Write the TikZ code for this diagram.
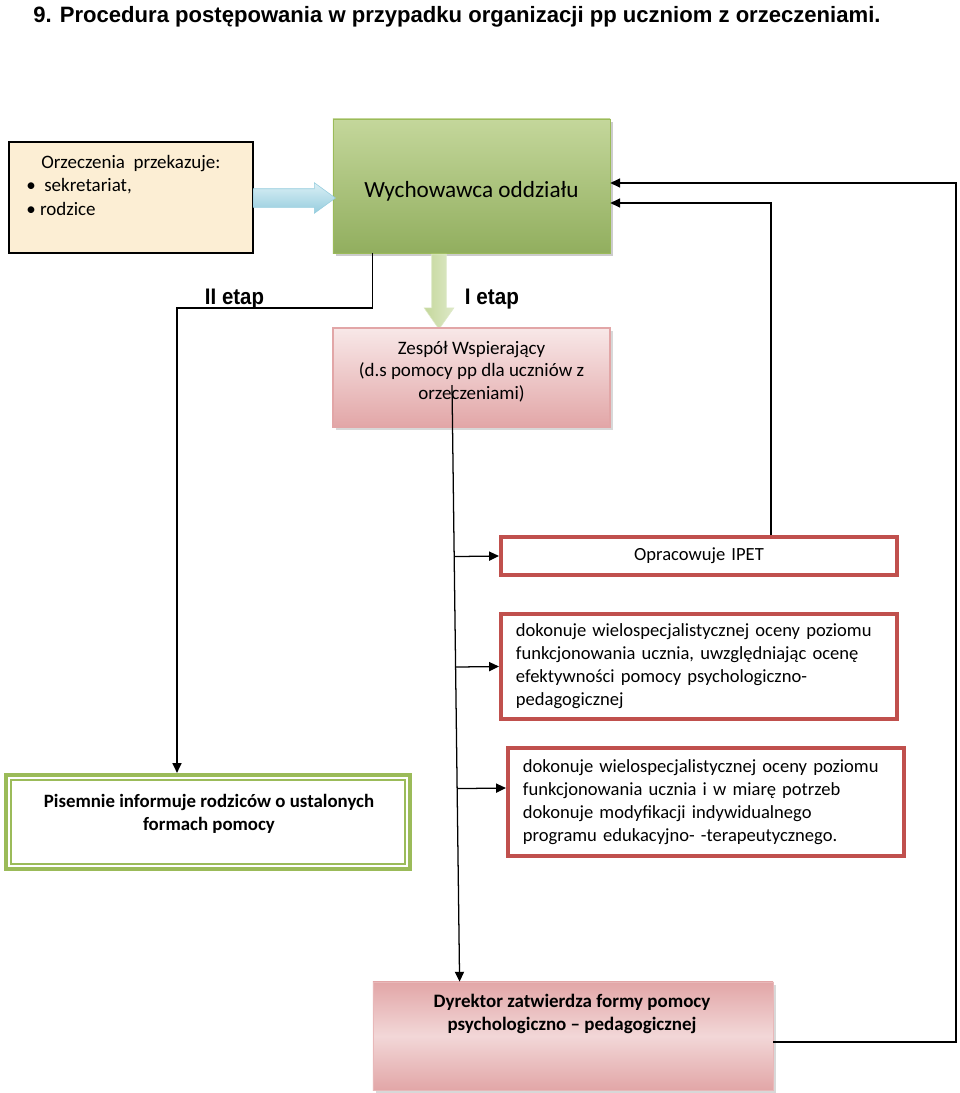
\documentclass[tikz,border=0pt]{standalone}
\usepackage{fontspec}
\setmainfont{Carlito}
\newfontfamily\arialfont{Liberation Sans}
\usepackage{graphicx}
\usepackage{xcolor}
\definecolor{bezowy}{RGB}{252,238,212}
\definecolor{zielony}{RGB}{155,187,89}
\definecolor{zielonyJasny}{RGB}{196,215,155}
\definecolor{zielonyBlady}{RGB}{222,233,200}
\definecolor{zielonyCiemny}{RGB}{126,160,66}
\definecolor{niebieski}{RGB}{150,205,222}
\definecolor{niebieskiJasny}{RGB}{218,239,245}
\definecolor{rozowy}{RGB}{226,166,167}
\definecolor{rozowyJasny}{RGB}{248,232,232}
\definecolor{czerwony}{RGB}{192,80,77}
\usetikzlibrary{arrows,arrows.meta,shapes,shapes.arrows,shadows,calc,positioning}
\tikzstyle{conn}=[-{Triangle[length=7pt,width=6.5pt]}, line width=0.9pt]
\tikzstyle{txt}=[inner sep=0pt, align=center,
                 font=\fontsize{13.5}{16.3}\selectfont]
\tikzstyle{etap}=[inner sep=0pt,
                  font=\arialfont\bfseries\fontsize{16}{19}\selectfont]
\tikzstyle{beigebox}=[rectangle, draw=black, line width=0.8pt, fill=bezowy,
                      minimum width=6.1cm, minimum height=2.775cm]
\tikzstyle{greenbox}=[rectangle, draw=zielony, line width=0.4pt,
                      top color=zielonyJasny, bottom color=zielonyCiemny!85,
                      drop shadow={shadow xshift=2pt, shadow yshift=-2pt, fill=black!40},
                      minimum width=6.925cm, minimum height=3.35cm]
\tikzstyle{pinkbox}=[rectangle, draw=rozowy, line width=0.8pt,
                     top color=rozowyJasny, bottom color=rozowy,
                     drop shadow={shadow xshift=2pt, shadow yshift=-2pt, fill=black!30},
                     minimum width=6.925cm, minimum height=2.475cm]
\tikzstyle{redbox}=[rectangle, draw=czerwony, line width=2.8pt, fill=white,
                    inner xsep=0.375cm, text width=9.15cm, align=left,
                    font=\fontsize{13.2}{16.3}\selectfont]
\tikzstyle{dgreenbox}=[rectangle, draw=zielony, line width=3pt, fill=white,
                       minimum width=10.1cm, minimum height=2.35cm]
\tikzstyle{dirbox}=[rectangle, draw=rozowy!80, line width=0.5pt,
                    top color=rozowy, bottom color=rozowy, middle color=rozowy!45!white,
                    drop shadow={shadow xshift=2pt, shadow yshift=-2pt, fill=black!30},
                    minimum width=10cm, minimum height=2.7cm]
\tikzstyle{bluearrow}=[single arrow, inner xsep=0pt, inner ysep=0.225cm, line width=0.4pt,
                       draw=niebieski, top color=niebieskiJasny, bottom color=niebieski,
                       minimum height=2.05cm,
                       single arrow head extend=0.15cm, single arrow tip angle=72]
\tikzstyle{greenarrow}=[single arrow, shape border rotate=270, inner xsep=0.175cm,
                        inner ysep=0pt, line width=0.4pt, draw=zielonyBlady,
                        left color=zielonyJasny, right color=zielonyBlady,
                        minimum height=1.875cm,
                        single arrow head extend=0.19cm, single arrow tip angle=70]

\begin{document}
\begin{tikzpicture}[x=0.025cm, y=-0.025cm]
    \useasboundingbox (0,0) rectangle (960,1093);

    % tytul
    \draw (33,22) node (tytul) [anchor=base west, inner sep=0pt]
        {\arialfont\bfseries\fontsize{15.8}{18}\selectfont\resizebox{21.175cm}{\height}{9. Procedura postępowania w przypadku organizacji pp uczniom z orzeczeniami.}};

    % gora
    \draw (131,197.5) node (orz) [beigebox] {};
    \draw (26,155) node (orzTxt) [txt, anchor=north west, align=left,
        font=\fontsize{13.5}{16.7}\selectfont]
        {\hspace*{0.375cm}Orzeczenia\ \ przekazuje:\\\textbullet\ \ sekretariat,\\\textbullet\ rodzice};
    \draw (471.5,186) node (wych) [greenbox] {};
    \draw (471.5,191) node (wychTxt) [txt, font=\fontsize{16.5}{19}\selectfont] {Wychowawca oddziału};
    \draw (288,198) node (strz1) [bluearrow] {};
    \draw (439,286.5) node (strz2) [greenarrow] {};

    \draw (234.5,304) node (etap2) [etap, anchor=base] {\resizebox{1.475cm}{\height}{II etap}};
    \draw (492,304) node (etap1) [etap, anchor=base] {\resizebox{1.35cm}{\height}{I etap}};

    \draw (471.5,377.5) node (zesp) [pinkbox] {};
    \draw (471.5,371.5) node (zespTxt) [txt, font=\fontsize{13.5}{16}\selectfont]
        {Zespół Wspierający\\(d.s pomocy pp dla uczniów z\\orzeczeniami)};

    % zadania
    \draw (699,556) node (ipet) [redbox, minimum height=0.95cm, align=center] {Opracowuje IPET};
    \draw (699,666.5) node (ocena1) [redbox, minimum height=2.625cm]
        {dokonuje wielospecjalistycznej oceny poziomu\\funkcjonowania ucznia, uwzględniając ocenę\\efektywności pomocy psychologiczno-\\pedagogicznej};
    \draw (706,802) node (ocena2) [redbox, minimum height=2.7cm]
        {dokonuje wielospecjalistycznej oceny poziomu\\funkcjonowania ucznia i w miarę potrzeb\\dokonuje modyfikacji indywidualnego\\programu edukacyjno- -terapeutycznego.};

    \draw (208,822) node (pis) [dgreenbox] {};
    \draw [zielony, line width=1.4pt] ($(pis.north west)+(7,7)$) rectangle ($(pis.south east)+(-7,-7)$);
    \draw (209,814) node (pisTxt) [txt, font=\bfseries\fontsize{13.4}{16.3}\selectfont]
        {Pisemnie informuje rodziców o ustalonych\\formach pomocy};

    \draw (573,1036) node (dyr) [dirbox] {};
    \draw (572,1014) node (dyrTxt) [txt, font=\bfseries\fontsize{13.5}{16.3}\selectfont]
        {Dyrektor zatwierdza formy pomocy\\psychologiczno – pedagogicznej};

    % polaczenia
    \coordinate (zs) at (452,385);
    \coordinate (dtop) at ($(dyr.north west)+(87,0)$);
    \coordinate (codo) at (177,308);
    \coordinate (prawy) at (956,183);

    \draw [conn] ($(wych.south west)+(40,0)$) |- (codo) -- (codo |- pis.north);
    \draw [conn] (zs) -- (dtop);
    \foreach \bx/\ang in {ipet/180,ocena1/180,ocena2/176}
        \draw [conn] ($(zs)!(\bx.\ang)!(dtop)$) -- (\bx.\ang);
    \draw [conn] ($(dyr.east)+(0,6)$) -| (prawy) -- (prawy -| wych.east);
    \draw [conn] ($(ipet.north)+(72,0)$) |- ($(wych.east)+(0,17)$);

\end{tikzpicture}
\end{document}
